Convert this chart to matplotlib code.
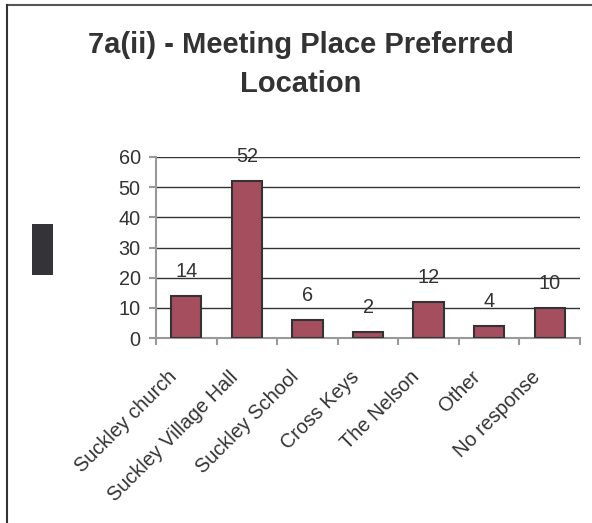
import matplotlib.pyplot as plt
from matplotlib.lines import Line2D
from matplotlib.patches import Rectangle
from matplotlib.transforms import ScaledTranslation

categories = ["Suckley church", "Suckley Village Hall", "Suckley School",
              "Cross Keys", "The Nelson", "Other", "No response"]
values = [14, 52, 6, 2, 12, 4, 10]
yticks = [0, 10, 20, 30, 40, 50, 60]

plt.rcParams['font.family'] = ['Liberation Sans', 'DejaVu Sans']
W, H = 592, 523
fig = plt.figure(figsize=(W / 100, H / 100), dpi=100)

# frame (top and left edges only)
fig.add_artist(Line2D([7 / W, 1], [1 - 5 / H, 1 - 5 / H], color='#555555', lw=1.5))
fig.add_artist(Line2D([7 / W, 7 / W], [0, 1 - 5 / H], color='#333333', lw=1.5))

fig.text(301 / W, 1 - 45 / H, "7a(ii) - Meeting Place Preferred", ha='center', va='center',
         fontsize=21, fontweight='bold', color='#333333')
fig.text(301 / W, 1 - 84 / H, "Location", ha='center', va='center',
         fontsize=21, fontweight='bold', color='#333333')

# legend-like dark block
fig.add_artist(Rectangle((32 / W, 1 - 275 / H), 21 / W, 51 / H, transform=fig.transFigure,
                         facecolor='#333338', edgecolor='none'))

ax = fig.add_axes([156 / W, 1 - 338 / H, (580 - 156) / W, (338 - 157) / H])
x = range(len(categories))
bars = ax.bar(x, values, width=0.5, color='#A44E5E', edgecolor='#333333', linewidth=1.5, zorder=3)
for xi, v in zip(x, values):
    ax.annotate(str(v), (xi, v), xytext=(0, 17.5), textcoords='offset points',
                ha='center', va='center', fontsize=14.3, color='#333333', zorder=4)

ax.set_xlim(-0.5, len(categories) - 0.5)
ax.set_ylim(0, 60)
ax.set_yticks(yticks)
ax.yaxis.grid(True, color='#333333', lw=1)
ax.set_axisbelow(True)
for s in ['top', 'right']:
    ax.spines[s].set_visible(False)
ax.spines['left'].set_color('#999999')
ax.spines['bottom'].set_color('#999999')
ax.spines['left'].set_linewidth(1.5)
ax.spines['bottom'].set_linewidth(1.5)

ax.set_xticks([i - 0.5 for i in range(len(categories) + 1)])
ax.set_xticklabels([])
ax.tick_params(axis='x', length=5, color='#999999', width=1.5)
ax.tick_params(axis='y', length=5, color='#999999', width=1.5, labelsize=14.3,
               labelcolor='#333333', pad=6)

# category labels, rotated, right end just left of the category centre
lab_tr = ax.get_xaxis_transform() + ScaledTranslation(-0.12, -0.36, fig.dpi_scale_trans)
for xi, name in zip(x, categories):
    ax.text(xi, 0, name, transform=lab_tr, rotation=45, rotation_mode='anchor',
            ha='right', va='center', fontsize=14.3, color='#333333', clip_on=False)

fig.savefig('out.png', dpi=100)
